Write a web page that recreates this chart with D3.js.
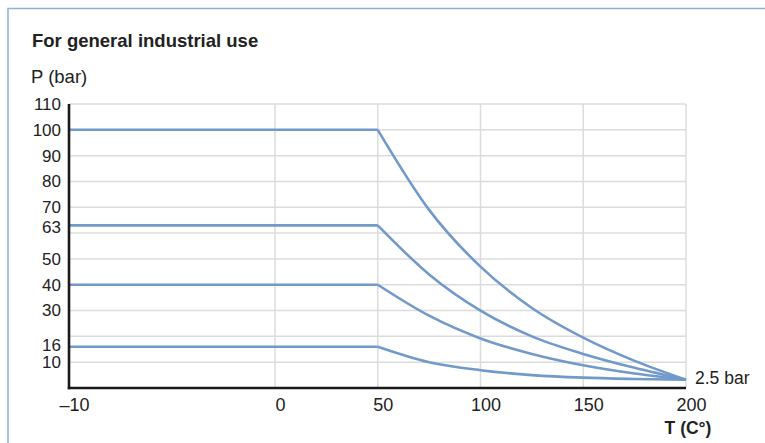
<!DOCTYPE html>
<html>
<head>
<meta charset="utf-8">
<script src="https://cdn.jsdelivr.net/npm/d3@7"></script>
<style>
  body { margin: 0; background: #fff; }
  svg text { font-family: 'Liberation Sans', Arial, sans-serif; fill: #222; }
</style>
</head>
<body>
<svg id="chart" width="765" height="443"></svg>
<script>
'use strict'

// temperature (C) at which each curve was read
let temps = [-10, 50, 75, 100, 125, 150, 175, 200]
let p100 = [100, 100, 69, 47, 31, 19.5, 10.5, 3.2]
let p63 = [63, 63, 44, 30, 20, 13.2, 7.8, 3.2]
let p40 = [40, 40, 28, 19.2, 13.2, 8.8, 5.6, 3.2]
let p16 = [16, 16, 10, 6.9, 5, 4, 3.5, 3.2]
let series = [p100, p63, p40, p16]

let xTicks = [-10, 0, 50, 100, 150, 200]
let yTicks = [10, 16, 30, 40, 50, 63, 70, 80, 90, 100, 110]
let yGrid = [10, 20, 30, 40, 50, 60, 70, 80, 90, 100, 110]

let svg = d3.select('#chart')
let lineColor = '#7199c9'
let gridColor = '#dcdcdc'

// frame
svg.append('path')
  .attr('d', 'M8,443V8.5H765')
  .attr('fill', 'none')
  .attr('stroke', '#8fb0dc')
  .attr('stroke-width', 1.5)

svg.append('text')
  .attr('x', 32)
  .attr('y', 47)
  .attr('font-size', 18.5)
  .attr('font-weight', 'bold')
  .text('For general industrial use')

svg.append('text')
  .attr('x', 31)
  .attr('y', 83)
  .attr('font-size', 18.5)
  .text('P (bar)')

// -10..0 is stretched, the rest is linear
let x = d3.scaleLinear()
  .domain([-10, 0, 200])
  .range([69, 275, 686])
let y = d3.scaleLinear()
  .domain([0, 110])
  .range([388, 104])

let grid = svg.append('g').attr('class', 'grid')
grid.selectAll('.hgrid')
  .data(yGrid)
  .enter()
  .append('line')
  .attr('class', 'hgrid')
  .attr('x1', x(-10))
  .attr('x2', x(200))
  .attr('y1', function (d) { return y(d) })
  .attr('y2', function (d) { return y(d) })
  .attr('stroke', gridColor)
  .attr('stroke-width', 1.5)
grid.selectAll('.vgrid')
  .data(xTicks.filter(function (d) { return d > -10 }))
  .enter()
  .append('line')
  .attr('class', 'vgrid')
  .attr('x1', function (d) { return x(d) })
  .attr('x2', function (d) { return x(d) })
  .attr('y1', y(110))
  .attr('y2', y(0))
  .attr('stroke', gridColor)
  .attr('stroke-width', 1.5)

let flat = d3.line()
  .x(function (d) { return x(d[0]) })
  .y(function (d) { return y(d[1]) })
let decay = d3.line()
  .x(function (d) { return x(d[0]) })
  .y(function (d) { return y(d[1]) })
  .curve(d3.curveMonotoneX)

series.forEach(function (s) {
  let pts = temps.map(function (t, i) { return [t, s[i]] })
  svg.append('path')
    .attr('d', flat(pts.slice(0, 2)))
    .attr('fill', 'none')
    .attr('stroke', lineColor)
    .attr('stroke-width', 2.6)
  svg.append('path')
    .attr('d', decay(pts.slice(1)))
    .attr('fill', 'none')
    .attr('stroke', lineColor)
    .attr('stroke-width', 2.6)
})

let xAxis = d3.axisBottom(x)
  .tickValues(xTicks)
  .tickSize(0)
  .tickPadding(8)
  .tickFormat(function (d) { return d < 0 ? '\u2013' + Math.abs(d) : d })
let yAxis = d3.axisLeft(y)
  .tickValues(yTicks)
  .tickSize(0)
  .tickPadding(8)

let gx = svg.append('g')
  .attr('transform', 'translate(0,' + y(0) + ')')
  .call(xAxis)
gx.select('.domain')
  .attr('d', 'M' + (x(-10) - 1.2) + ',0H' + x(200))
  .attr('stroke', '#1a1a1a')
  .attr('stroke-width', 2.6)
gx.selectAll('text')
  .attr('font-size', 18)
  .attr('dx', 5)
  .attr('dy', '0.82em')

let gy = svg.append('g')
  .attr('transform', 'translate(' + x(-10) + ',0)')
  .call(yAxis)
gy.select('.domain')
  .attr('d', 'M0,' + y(110) + 'V' + (y(0) + 1.2))
  .attr('stroke', '#1a1a1a')
  .attr('stroke-width', 2.6)
// close labels are pushed apart a little, as in the original
gy.selectAll('text')
  .attr('font-size', 17)
  .attr('y', function (d) { return d === 16 ? -2 : d === 63 ? 2 : 0 })
svg.selectAll('.tick text').attr('fill', '#222').style('font-family', 'Liberation Sans, Arial, sans-serif')

svg.append('text')
  .attr('x', x(200) + 9)
  .attr('y', y(p16[p16.length - 1]) + 4)
  .attr('font-size', 17.5)
  .text('2.5 bar')

svg.append('text')
  .attr('x', 688)
  .attr('y', 434)
  .attr('text-anchor', 'middle')
  .attr('font-size', 17.5)
  .attr('font-weight', 'bold')
  .text('T (C\u00b0)')
</script>
</body>
</html>
